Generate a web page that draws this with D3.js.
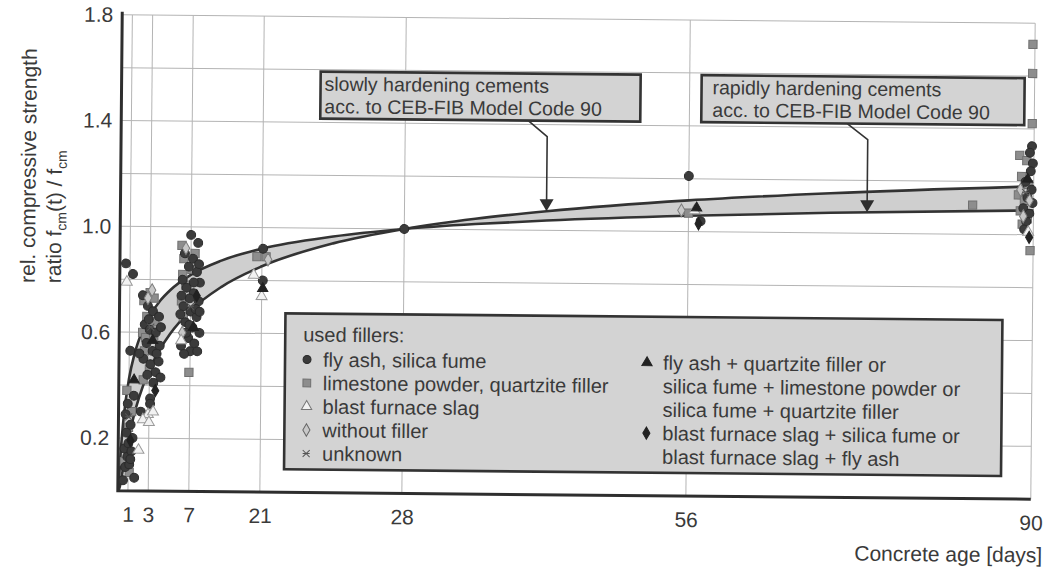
<!DOCTYPE html>
<html lang="en">
<head>
<meta charset="UTF-8">
<title>Compressive strength ratio vs concrete age</title>
<script src="https://d3js.org/d3.v7.min.js"></script>
<style>
  body { margin: 0; background: #fff; }
  svg { display: block; font-family: "Liberation Sans", Arial, sans-serif; }
</style>
</head>
<body>
<div id="chart"></div>
<script>
// axis ticks (the gridline drawn at day 14 carries the label "21" in the original)
const tickDays = [1, 3, 7, 14, 28, 56, 90];
const tickLabels = ["1", "3", "7", "21", "28", "56", "90"];
const yTicks = [0.2, 0.6, 1.0, 1.4, 1.8];
const yGrid = [0.2, 0.4, 0.6, 0.8, 1.0, 1.2, 1.4, 1.6, 1.8];

// CEB-FIB model curves
const curveDays   = [0.1, 0.25, 0.5, 1, 1.5, 2, 3, 4, 5, 7, 10, 14, 21, 28, 35, 42, 56, 70, 90];
const slowRatio   = [0.003, 0.026, 0.085, 0.196, 0.283, 0.353, 0.458, 0.535, 0.595, 0.684, 0.774, 0.854, 0.943, 1.0, 1.041, 1.072, 1.118, 1.150, 1.183];
const rapidRatio  = [0.043, 0.147, 0.273, 0.424, 0.515, 0.578, 0.663, 0.720, 0.761, 0.819, 0.874, 0.921, 0.969, 1.0, 1.021, 1.037, 1.060, 1.076, 1.092];

// measured points [day, ratio]
const flyAsh = [
  [0.5,0.04],[0.7,0.09],[0.9,0.13],[1.1,0.10],[0.6,0.16],[1.0,0.18],[1.3,0.15],[1.4,0.20],[0.8,0.22],
  [1.2,0.25],[0.9,0.33],[1.5,0.36],[0.7,0.29],[1.2,0.12],[0.6,0.86],[1.3,0.82],[1.1,0.53],[1.6,0.05],
  [2.3,0.74],[2.8,0.70],[3.3,0.68],[3.9,0.66],[2.5,0.63],[3.0,0.61],[3.6,0.60],[2.7,0.56],[3.3,0.53],
  [4.0,0.55],[2.4,0.50],[3.1,0.48],[3.6,0.45],[4.1,0.43],[2.8,0.44],[3.4,0.41],[3.9,0.49],[3.1,0.35],
  [3.1,0.33],[2.2,0.30],[3.7,0.52],[2.9,0.65],[4.1,0.62],[2.0,0.52],
  [7.0,0.97],[7.7,0.94],[6.4,0.90],[7.2,0.88],[6.8,0.85],[7.6,0.83],[6.2,0.80],[7.9,0.79],[6.6,0.77],
  [7.3,0.75],[7.8,0.72],[6.3,0.70],[7.0,0.68],[7.6,0.66],[6.5,0.64],[7.2,0.62],[7.9,0.60],[6.8,0.58],
  [7.4,0.56],[6.1,0.55],[7.0,0.53],[7.7,0.53],[6.4,0.52],[7.5,0.69],[6.9,0.73],[6.0,0.67],[7.8,0.86],
  [6.6,0.60],[7.3,0.79],[6.1,0.74],[7.9,0.68],[6.9,0.63],
  [14.1,0.92],[14.1,0.80],
  [28,1.0],
  [56,1.21],[57.2,1.04],
  [89.8,1.335],[89.6,1.31],[89.9,1.27],[89.7,1.24],[89.2,1.20],[89.8,1.17],[89.4,1.14],[89.9,1.12],
  [89.0,1.10],[89.6,1.08],[89.3,1.05],[89.1,1.02]
];
const limestone = [
  [0.8,0.38],[1.0,0.24],[1.3,0.30],[0.6,0.11],[1.1,0.07],
  [2.4,0.72],[2.7,0.66],[3.0,0.75],[3.4,0.73],[2.3,0.60],[2.6,0.58],[3.5,0.64],[2.5,0.53],[3.0,0.46],
  [2.4,0.42],[3.4,0.58],
  [6.1,0.93],[6.3,0.88],[6.2,0.82],[6.5,0.78],[6.1,0.72],[7.1,0.84],[6.3,0.66],[6.9,0.45],[7.4,0.90],
  [13.5,0.89],[14.4,0.89],
  [56.0,1.07],[84,1.11],
  [89.8,1.72],[89.8,1.61],[89.8,1.42],[88.6,1.30],[89.3,1.28],[88.8,1.22],[89.5,1.19],[88.5,1.15],
  [89.1,1.13],[88.7,1.09],[89.4,1.06],[88.9,1.04],[89.7,0.94]
];
const blastSlag = [[0.7,0.79],[2.9,0.29],[3.4,0.30],[2.4,0.27],[3.0,0.26],[2.0,0.155],[6.1,0.57],[13.2,0.82],[14.0,0.74],[56.6,1.08],[89.5,1.01]];
const withoutFiller = [[3.2,0.76],[2.8,0.73],[6.5,0.92],[6.2,0.60],[14.6,0.88],[55.3,1.08],[88.7,1.17],[89.0,1.07],[89.6,1.13]];
const unknown = [[1.0,0.28],[3.1,0.62],[7.0,0.70],[89.2,1.16]];
const comboTriangle = [[1.5,0.42],[3.3,0.57],[7.3,0.62],[14.1,0.77],[56.8,1.09],[89.4,1.21]];
const comboDiamond = [[1.2,0.19],[3.6,0.38],[7.6,0.74],[57.0,1.03],[89.6,0.99]];

const legendLeft = ["fly ash, silica fume", "limestone powder, quartzite filler", "blast furnace slag", "without filler", "unknown"];
const legendRight = ["fly ash + quartzite filler or", "silica fume + limestone powder or", "silica fume + quartzite filler",
                     "blast furnace slag + silica fume or", "blast furnace slag + fly ash"];

const W = 1048, H = 569;
const pLeft = 120, pRight = 1033, pTop = 19, pBottom = 495;
const ink = "#3a3a3a";

const x = d3.scaleLinear().domain([0, 90]).range([pLeft, pRight]);
const y = d3.scaleLinear().domain([0, 1.8]).range([pBottom, pTop]);

const svg = d3.select("#chart").append("svg").attr("width", W).attr("height", H);
// the scanned figure sits slightly tilted
const g = svg.append("g").attr("transform", "rotate(0.53 576 257)");

// grid
g.append("g").selectAll("line").data(yGrid).join("line")
  .attr("x1", pLeft).attr("x2", pRight).attr("y1", d => y(d)).attr("y2", d => y(d))
  .attr("stroke", "#b4b4b4").attr("stroke-width", 1);
g.append("g").selectAll("line").data(tickDays).join("line")
  .attr("x1", d => x(d)).attr("x2", d => x(d)).attr("y1", y(0)).attr("y2", y(1.8))
  .attr("stroke", "#b4b4b4").attr("stroke-width", 1);

// band between the two model curves
const band = curveDays.map((d, i) => ({ day: d, slow: slowRatio[i], rapid: rapidRatio[i] }));
g.append("path").datum(band)
  .attr("fill", "#cfcfcf")
  .attr("d", d3.area().curve(d3.curveMonotoneX).x(d => x(d.day)).y0(d => y(d.slow)).y1(d => y(d.rapid)));
["slow", "rapid"].forEach(k => {
  g.append("path").datum(band)
    .attr("fill", "none").attr("stroke", "#333").attr("stroke-width", 2.6)
    .attr("d", d3.line().curve(d3.curveMonotoneX).x(d => x(d.day)).y(d => y(d[k])));
});

// markers
const sym = (type, size) => d3.symbol().type(type).size(size)();
const xPath = s => `M${-s},${-s}L${s},${s}M${-s},${s}L${s},${-s}M${-s},0L${s},0`;
const series = [
  { data: limestone, d: sym(d3.symbolSquare, 68), fill: "#8d8d8d", stroke: "#707070" },
  { data: flyAsh, d: sym(d3.symbolCircle, 62), fill: "#3b3b3b", stroke: "#2a2a2a" },
  { data: withoutFiller, d: sym(d3.symbolDiamond, 48), fill: "#c8c8c8", stroke: "#7d7d7d" },
  { data: blastSlag, d: sym(d3.symbolTriangle, 52), fill: "#f2f2f2", stroke: "#9a9a9a" },
  { data: unknown, d: xPath(3.5), fill: "none", stroke: "#555" },
  { data: comboTriangle, d: sym(d3.symbolTriangle, 46), fill: "#222", stroke: "#222" },
  { data: comboDiamond, d: sym(d3.symbolDiamond, 44), fill: "#222", stroke: "#222" }
];
series.forEach(s => {
  g.append("g").selectAll("path").data(s.data).join("path")
    .attr("transform", d => `translate(${x(d[0])},${y(d[1])})`)
    .attr("d", s.d).attr("fill", s.fill).attr("stroke", s.stroke).attr("stroke-width", 1);
});

// axes
const yAxis = g.append("g").attr("transform", `translate(${pLeft},0)`)
  .call(d3.axisLeft(y).tickValues(yTicks).tickFormat(d3.format(".1f")).tickSize(0).tickPadding(9));
const xAxis = g.append("g").attr("transform", `translate(0,${pBottom})`)
  .call(d3.axisBottom(x).tickValues(tickDays).tickFormat((d, i) => tickLabels[i]).tickSize(0).tickPadding(16));
[yAxis, xAxis].forEach(a => {
  a.select(".domain").remove();
  a.selectAll("text").attr("font-size", 21).attr("fill", ink).attr("font-family", "Liberation Sans, Arial, sans-serif");
});
g.append("path").attr("d", `M${pLeft},${pTop - 3}V${pBottom}H${pRight}`)
  .attr("fill", "none").attr("stroke", "#2e2e2e").attr("stroke-width", 3);

// axis titles
g.append("text").attr("x", 1045).attr("y", 558).attr("text-anchor", "end")
  .attr("font-size", 21).attr("fill", ink).text("Concrete age [days]");
const yt = g.append("g").attr("fill", ink).attr("font-size", 21);
yt.append("text").attr("transform", "translate(35,288) rotate(-90)").text("rel. compressive strength");
const yt2 = yt.append("text").attr("transform", "translate(61,288) rotate(-90)");
yt2.append("tspan").text("ratio f");
yt2.append("tspan").attr("font-size", 14).attr("dy", 5).text("cm");
yt2.append("tspan").attr("dy", -5).text("(t) / f");
yt2.append("tspan").attr("font-size", 14).attr("dy", 5).text("cm");

// annotation boxes with arrows to the curves
const notes = [
  { box: [319, 74, 320, 47], tx: 323, lines: ["slowly hardening cements", "acc. to CEB-FIB Model Code 90"],
    from: 527, day: 42, value: 1.072 },
  { box: [700, 74, 323, 47], tx: 711, lines: ["rapidly hardening cements", "acc. to CEB-FIB Model Code 90"],
    from: 846, day: 73.6, value: 1.0796 }
];
notes.forEach(n => {
  const [bx, by, bw, bh] = n.box;
  const tipX = x(n.day), tipY = y(n.value);
  g.append("path").attr("d", `M${n.from},${by + bh}L${tipX},${by + bh + 16}V${tipY - 10}`)
    .attr("fill", "none").attr("stroke", "#333").attr("stroke-width", 1.6);
  g.append("path").attr("d", `M${tipX},${tipY}L${tipX - 7},${tipY - 12}H${tipX + 7}Z`).attr("fill", "#2e2e2e");
  g.append("rect").attr("x", bx).attr("y", by).attr("width", bw).attr("height", bh)
    .attr("fill", "#d3d3d3").attr("stroke", "#333").attr("stroke-width", 2.6);
  n.lines.forEach((t, i) => {
    g.append("text").attr("x", n.tx).attr("y", by + 19 + i * 22.5).attr("font-size", 19.5).attr("fill", ink).text(t);
  });
});

// legend
const lg = g.append("g");
lg.append("rect").attr("x", 286).attr("y", 316).attr("width", 717).attr("height", 156)
  .attr("fill", "#d3d3d3").attr("stroke", "#333").attr("stroke-width", 2.6);
const rowY = i => 362 + i * 23.5;
lg.append("text").attr("x", 304).attr("y", 344).attr("font-size", 20).attr("fill", ink).text("used fillers:");
legendLeft.forEach((t, i) => {
  lg.append("text").attr("x", 324).attr("y", rowY(i) + 7).attr("font-size", 20).attr("fill", ink).text(t);
});
legendRight.forEach((t, i) => {
  lg.append("text").attr("x", 664).attr("y", rowY(i) + 7).attr("font-size", 20).attr("fill", ink).text(t);
});
const legendMarks = [
  { col: 308, row: 0, d: sym(d3.symbolCircle, 50), fill: "#3b3b3b", stroke: "#2a2a2a" },
  { col: 308, row: 1, d: sym(d3.symbolSquare, 60), fill: "#8d8d8d", stroke: "#707070" },
  { col: 308, row: 2, d: sym(d3.symbolTriangle, 46), fill: "#f2f2f2", stroke: "#777" },
  { col: 308, row: 3, d: sym(d3.symbolDiamond, 44), fill: "#c8c8c8", stroke: "#666" },
  { col: 308, row: 4, d: xPath(3.5), fill: "none", stroke: "#555" },
  { col: 648, row: 0, d: sym(d3.symbolTriangle, 46), fill: "#222", stroke: "#222" },
  { col: 648, row: 3, d: sym(d3.symbolDiamond, 44), fill: "#222", stroke: "#222" }
];
lg.selectAll("path").data(legendMarks).join("path")
  .attr("transform", d => `translate(${d.col},${rowY(d.row)})`)
  .attr("d", d => d.d).attr("fill", d => d.fill).attr("stroke", d => d.stroke).attr("stroke-width", 1);
</script>
</body>
</html>
